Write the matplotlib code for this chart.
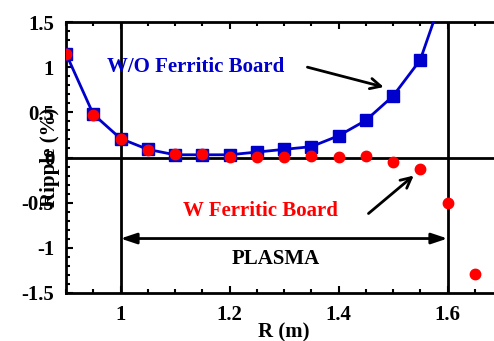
import matplotlib
matplotlib.use("Agg")
import matplotlib.pyplot as plt
from matplotlib.ticker import MultipleLocator, FixedLocator

# Data
r_wo = [0.90, 0.95, 1.00, 1.05, 1.10, 1.15, 1.20, 1.25, 1.30, 1.35, 1.40, 1.45, 1.50, 1.55, 1.60]
ripple_wo = [1.15, 0.48, 0.21, 0.09, 0.03, 0.03, 0.03, 0.06, 0.09, 0.12, 0.24, 0.41, 0.68, 1.08, 1.95]

r_w = [0.90, 0.95, 1.00, 1.05, 1.10, 1.15, 1.20, 1.25, 1.30, 1.35, 1.40, 1.45, 1.50, 1.55, 1.60, 1.65]
ripple_w = [1.15, 0.47, 0.21, 0.08, 0.04, 0.04, 0.01, 0.01, 0.01, 0.02, 0.01, 0.02, -0.05, -0.13, -0.50, -1.29]

x_ticks = [1.0, 1.2, 1.4, 1.6]
x_tick_labels = ["1", "1.2", "1.4", "1.6"]
y_ticks = [-1.5, -1.0, -0.5, 0.0, 0.5, 1.0, 1.5]
y_tick_labels = ["-1.5", "-1", "-0.5", "0", "0.5", "1", "1.5"]

plasma_edges = [1.0, 1.6]

FONT = "Liberation Serif"
plt.rcParams["font.family"] = FONT
plt.rcParams["font.weight"] = "bold"

fig = plt.figure(figsize=(4.94, 3.41), dpi=100)
W, H = 494, 341
left, right, top, bottom = 66, 502, 22, 293
ax = fig.add_axes([left / W, 1 - bottom / H, (right - left) / W, (bottom - top) / H])

ax.set_xlim(0.9, 1.7)
ax.set_ylim(-1.5, 1.5)

# reference lines
ax.axhline(0, color="black", lw=2, zorder=1)
for xe in plasma_edges:
    ax.axvline(xe, color="black", lw=2, zorder=1)

blue = "#0000CC"
red = "#FF0000"
ax.plot(r_wo, ripple_wo, color=blue, lw=2, marker="s", ms=8.5, mfc=blue, mec=blue, zorder=3)
ax.plot(r_w, ripple_w, linestyle="none", marker="o", ms=7.5, mfc=red, mec=red, zorder=4)

# ticks
ax.xaxis.set_major_locator(FixedLocator(x_ticks))
ax.set_xticklabels(x_tick_labels)
ax.xaxis.set_minor_locator(MultipleLocator(0.05))
ax.yaxis.set_major_locator(FixedLocator(y_ticks))
ax.set_yticklabels(y_tick_labels)
ax.yaxis.set_minor_locator(MultipleLocator(0.1))
ax.tick_params(which="both", direction="in", top=True, right=False, width=1.5)
ax.tick_params(which="major", length=5, pad=8.5, labelsize=15)
ax.tick_params(which="minor", length=3)
for lab in ax.get_xticklabels() + ax.get_yticklabels():
    lab.set_fontweight("bold")

for s in ["left", "bottom", "top", "right"]:
    ax.spines[s].set_linewidth(2)

ax.set_xlabel("R (m)", fontsize=15, fontweight="bold", labelpad=-1.5)
ax.set_ylabel("Ripple (%)", fontsize=15, fontweight="bold")
ax.yaxis.set_label_coords(-0.037, 0.5)
ax.yaxis.label.set_va("center")

# annotations
ax.text(1.1385, 0.944, "W/O Ferritic Board", color=blue, fontsize=15,
        fontweight="bold", ha="center", va="baseline", zorder=5)
ax.annotate("", xy=(1.483, 0.78), xytext=(1.343, 1.0),
            arrowprops=dict(arrowstyle="->,head_length=0.5,head_width=0.25",
                            mutation_scale=15, lw=2, color="black",
                            shrinkA=0, shrinkB=0))

ax.text(1.257, -0.644, "W Ferritic Board", color=red, fontsize=15,
        fontweight="bold", ha="center", va="baseline", zorder=5)
ax.annotate("", xy=(1.538, -0.2), xytext=(1.455, -0.62),
            arrowprops=dict(arrowstyle="->,head_length=0.5,head_width=0.25",
                            mutation_scale=15, lw=2, color="black",
                            shrinkA=0, shrinkB=0))

ax.annotate("", xy=(plasma_edges[1], -0.897), xytext=(plasma_edges[0], -0.897),
            arrowprops=dict(arrowstyle="<|-|>,head_length=0.6,head_width=0.2",
                            mutation_scale=16, lw=2, color="black",
                            shrinkA=0, shrinkB=0))
ax.text(1.285, -1.178, "PLASMA", color="black", fontsize=15,
        fontweight="bold", ha="center", va="baseline")

fig.savefig("out.png", dpi=100)
